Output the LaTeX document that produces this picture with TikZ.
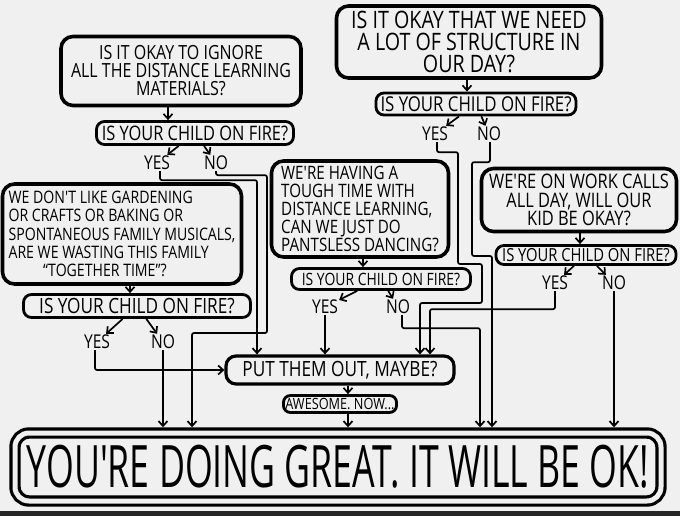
\documentclass[tikz,border=0pt]{standalone}
\usepackage{fontspec}
\newfontfamily\handfont[FakeStretch=0.82]{Open Sans}
\newfontfamily\bigfont[FakeStretch=0.61]{Open Sans}
\usetikzlibrary{arrows.meta}
\colorlet{paper}{black!6}

\begin{document}
\begin{tikzpicture}[x=1pt, y=-1pt,
    question/.style n args={2}{draw, line width=3.6pt, rounded corners=12pt, inner sep=2pt,
        align=center, font=\handfont\fontsize{#1}{#2}\selectfont},
    firebox/.style={draw, line width=2.8pt, rounded corners=8pt, inner sep=2pt,
        font=\handfont\fontsize{#1}{#1}\selectfont},
    answer/.style={inner sep=1pt, font=\handfont\fontsize{19}{19}\selectfont},
    link/.style={line width=1.7pt, rounded corners=2pt, -{Straight Barb[length=5pt,width=9pt]}}]
    \fill[paper] (0,0) rectangle (680,516);
    \useasboundingbox (0,0) rectangle (680,516);
    \fill[black!85] (0,511) rectangle (680,516);

    % Questions
    \node[question={19.5}{18}, minimum width=240pt, minimum height=69pt] (ignore) at (181,71)
        {IS IT OKAY TO IGNORE\\ALL THE DISTANCE LEARNING\\MATERIALS?};
    \node[question={24}{22}, minimum width=265pt, minimum height=72pt] (structure) at (469,42)
        {IS IT OKAY THAT WE NEED\\A LOT OF STRUCTURE IN\\OUR DAY?};
    \node[question={17.2}{18.3}, align=left, minimum width=239pt, minimum height=100pt] (together) at (122,234)
        {WE DON'T LIKE GARDENING\\OR CRAFTS OR BAKING OR\\SPONTANEOUS FAMILY MUSICALS,\\ARE WE WASTING THIS FAMILY\\\hspace*{2em}“TOGETHER TIME”?};
    \node[question={18.5}{18}, align=left, minimum width=177pt, minimum height=96pt] (pants) at (360,209)
        {WE'RE HAVING A\\TOUGH TIME WITH\\DISTANCE LEARNING,\\CAN WE JUST DO\\PANTSLESS DANCING?};
    \node[question={20}{18.5}, minimum width=195pt, minimum height=63pt] (calls) at (579,200)
        {WE'RE ON WORK CALLS\\ALL DAY, WILL OUR\\KID BE OKAY?};

    % Fire checks
    \node[firebox=20, minimum width=197pt, minimum height=23pt] (fireI) at (195,133) {IS YOUR CHILD ON FIRE?};
    \node[firebox=20.5, minimum width=200pt, minimum height=22pt] (fireS) at (476,104) {IS YOUR CHILD ON FIRE?};
    \node[firebox=21, minimum width=227pt, minimum height=23pt] (fireT) at (137,306) {IS YOUR CHILD ON FIRE?};
    \node[firebox=17, minimum width=179pt, minimum height=21pt] (fireP) at (381,279) {IS YOUR CHILD ON FIRE?};
    \node[firebox=18, minimum width=180pt, minimum height=19pt] (fireC) at (586,255) {IS YOUR CHILD ON FIRE?};

    \node[answer] (yesI) at (157,163) {YES};
    \node[answer] (noI) at (216,163) {NO};
    \node[answer] (yesS) at (435,134) {YES};
    \node[answer] (noS) at (489,134) {NO};
    \node[answer] (yesT) at (97,342) {YES};
    \node[answer] (noT) at (163,342) {NO};
    \node[answer] (yesP) at (325,307) {YES};
    \node[answer] (noP) at (398,307) {NO};
    \node[answer] (yesC) at (555,283) {YES};
    \node[answer] (noC) at (614,283) {NO};

    % Outcomes
    \node[draw, line width=3.2pt, rounded corners=10pt, inner sep=2pt, minimum width=228pt, minimum height=28pt,
        font=\handfont\fontsize{21}{21}\selectfont] (putout) at (340,370) {PUT THEM OUT, MAYBE?};
    \node[draw, line width=2.8pt, rounded corners=7pt, inner sep=2pt, minimum width=112pt, minimum height=17pt,
        font=\handfont\fontsize{15.5}{15.5}\selectfont] (awesome) at (340,404) {AWESOME. NOW...};
    \node[draw, line width=3.2pt, double=paper, double distance=5pt, rounded corners=14pt, outer sep=5.7pt,
        inner sep=2pt, minimum width=646pt, minimum height=68pt,
        font=\bigfont\fontsize{58.5}{58.5}\selectfont] (okay) at (338,467) {YOU'RE DOING GREAT. IT WILL BE OK!};

    % question -> fire check
    \draw[link] (168,0 |- ignore.south) -- (168,0 |- fireI.north);
    \draw[link] (467,0 |- structure.south) -- (467,0 |- fireS.north);
    \draw[link] (130,0 |- together.south) -- (130,0 |- fireT.north);
    \draw[link] (363,0 |- pants.south) -- (363,0 |- fireP.north);
    \draw[link] (580,0 |- calls.south) -- (580,0 |- fireC.north);

    % fire check -> yes / no
    \foreach \f in {I,S,T,P,C} {
        \draw[link] (fire\f) -- (yes\f);
        \draw[link] (fire\f) -- (no\f);
    }

    % yes / no -> outcomes
    \draw[link] ([xshift=3pt]yesI.south) -- ++(0,9) -| (257,0 |- putout.north);
    \draw[link] (noI.south) -- ++(0,4) -| (267,333) -| (192,0 |- okay.north);
    \draw[link] ([xshift=-2pt]yesT.south) |- (putout.west);
    \draw[link] (noT.south) -- (noT.south |- okay.north);
    \draw[link] ([xshift=2pt]yesS.south) -- ++(0,10) -| (458,264) -| (482,303) -| (420,0 |- putout.north);
    \draw[link] ([xshift=1pt]noS.south) -- ++(0,20) -| (472,256) -| (492,0 |- okay.north);
    \draw[link] (yesP.south) -- (yesP.south |- putout.north);
    \draw[link] ([xshift=4pt]noP.south) -- ++(0,13) -| (480,0 |- okay.north);
    \draw[link] (yesC.south) -- ++(0,18) -| (430,0 |- putout.north);
    \draw[link] (noC.south) -- (noC.south |- okay.north);
    \draw[link] (348,0 |- putout.south) -- (348,0 |- awesome.north);
    \draw[link] (348,0 |- awesome.south) -- (348,0 |- okay.north);
\end{tikzpicture}
\end{document}
